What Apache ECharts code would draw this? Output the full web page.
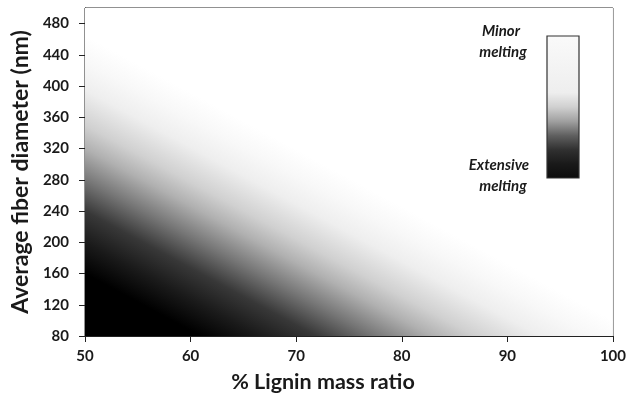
<!DOCTYPE html>
<html>
<head>
<meta charset="utf-8">
<script src="https://cdn.jsdelivr.net/npm/echarts@6/dist/echarts.min.js"></script>
<style>
  html, body { margin: 0; padding: 0; background: #fff; }
  #chart { width: 629px; height: 404px; }
</style>
</head>
<body>
<div id="chart"></div>
<script>
// axes
const xTicks = [50, 60, 70, 80, 90, 100]
const yTicks = [80, 120, 160, 200, 240, 280, 320, 360, 400, 440, 480]

// grey level read along the left edge (50 % lignin), 0 = black, 255 = white
const edgeDiameter = [80, 160, 200, 240, 280, 320, 350, 395, 430, 465]
const edgeShade = [0, 0, 26, 56, 118, 176, 208, 238, 248, 255]
// iso-grey lines drop about this many nm per % lignin
const contourSlope = -7.3

// colour bar (bottom -> top)
const barStops = [0, 0.1, 0.2, 0.3, 0.4, 0.5, 0.6, 1]
const barShade = [12, 25, 48, 95, 160, 208, 238, 250]

const grey = (s) => 'rgb(' + s + ',' + s + ',' + s + ')'

const chart = echarts.init(document.getElementById('chart'))

const renderField = (params, api) => {
  const tl = api.coord([xTicks[0], 500])
  const br = api.coord([xTicks[xTicks.length - 1], yTicks[0]])
  const d0 = edgeDiameter[0]
  const d1 = edgeDiameter[edgeDiameter.length - 1]
  const a = api.coord([xTicks[0], d0])
  const b = api.coord([xTicks[0], d1])
  const c = api.coord([xTicks[0] + 1, d0 + contourSlope])
  // normal to the iso-grey lines in pixel space
  let dx = c[0] - a[0], dy = c[1] - a[1]
  const len = Math.sqrt(dx * dx + dy * dy)
  dx /= len; dy /= len
  let nx = dy, ny = -dx
  let L = (b[0] - a[0]) * nx + (b[1] - a[1]) * ny
  if (L < 0) { nx = -nx; ny = -ny; L = -L }
  const stops = edgeDiameter.map((d, i) => ({
    offset: (d - d0) / (d1 - d0),
    color: grey(edgeShade[i])
  }))
  return {
    type: 'rect',
    shape: { x: tl[0], y: tl[1], width: br[0] - tl[0], height: br[1] - tl[1] },
    style: {
      fill: {
        type: 'linear',
        x: a[0], y: a[1],
        x2: a[0] + nx * L, y2: a[1] + ny * L,
        colorStops: stops,
        global: true
      }
    },
    silent: true
  }
}

const tickFont = { fontFamily: 'Lato', fontWeight: 'bold', fontSize: 15, color: '#1a1a1a' }
const noteFont = { fontFamily: 'Lato', fontWeight: 'bold', fontStyle: 'italic', fontSize: 15, fill: '#1a1a1a', textAlign: 'center', textVerticalAlign: 'middle' }

const option = {
  animation: false,
  grid: {
    left: 85,
    right: 16,
    top: 8,
    bottom: 68,
    show: true,
    borderColor: '#222',
    borderWidth: 1
  },
  xAxis: {
    type: 'value',
    min: 50,
    max: 100,
    interval: 10,
    name: '% Lignin mass ratio',
    nameLocation: 'middle',
    nameGap: 35,
    nameTextStyle: { fontFamily: 'Lato', fontWeight: 'bold', fontSize: 21.5, color: '#1a1a1a', padding: [0, 52, 0, 0] },
    axisLine: { show: true, lineStyle: { color: '#222', width: 1 } },
    axisTick: { show: true, length: 6, lineStyle: { color: '#222' } },
    axisLabel: Object.assign({ margin: 13, customValues: xTicks }, tickFont),
    splitLine: { show: false }
  },
  yAxis: {
    type: 'value',
    min: 80,
    max: 500,
    interval: 40,
    name: 'Average fiber diameter (nm)',
    nameLocation: 'middle',
    nameGap: 48,
    nameTextStyle: { fontFamily: 'Lato', fontWeight: 'bold', fontSize: 23, color: '#1a1a1a' },
    axisLine: { show: true, lineStyle: { color: '#222', width: 1 } },
    axisTick: { show: true, length: 6, customValues: yTicks, lineStyle: { color: '#222' } },
    axisLabel: Object.assign({ margin: 16, customValues: yTicks }, tickFont),
    splitLine: { show: false }
  },
  series: [
    {
      type: 'custom',
      coordinateSystem: 'cartesian2d',
      renderItem: renderField,
      data: [[50, 80]],
      clip: true,
      z: 1
    }
  ],
  graphic: [
    {
      type: 'rect',
      shape: { x: 547, y: 36, width: 32, height: 142 },
      style: {
        fill: {
          type: 'linear', x: 0, y: 1, x2: 0, y2: 0,
          colorStops: barStops.map((o, i) => ({ offset: o, color: grey(barShade[i]) }))
        },
        stroke: '#333',
        lineWidth: 1.2
      },
      z: 10
    },
    { type: 'text', x: 501, y: 31, style: Object.assign({ text: 'Minor' }, noteFont), z: 10 },
    { type: 'text', x: 503, y: 52, style: Object.assign({ text: 'melting' }, noteFont), z: 10 },
    { type: 'text', x: 499, y: 165, style: Object.assign({ text: 'Extensive' }, noteFont), z: 10 },
    { type: 'text', x: 503, y: 186, style: Object.assign({ text: 'melting' }, noteFont), z: 10 }
  ]
}

chart.setOption(option)

window.addEventListener('resize', () => chart.resize())
</script>
</body>
</html>
